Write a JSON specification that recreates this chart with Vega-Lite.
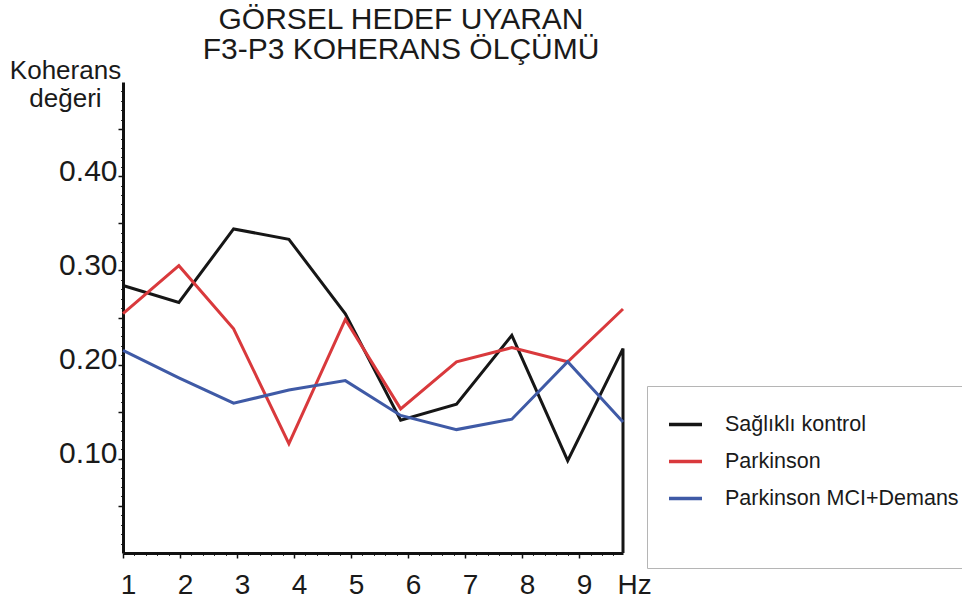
{
  "$schema": "https://vega.github.io/schema/vega-lite/v6.json",
  "width": 500,
  "height": 471,
  "autosize": {"type": "none"},
  "padding": {"left": 123, "top": 82, "right": 339, "bottom": 48},
  "background": "white",
  "config": {"view": {"stroke": null}, "font": "Liberation Sans"},
  "title": {
    "text": ["GÖRSEL HEDEF UYARAN", "F3-P3 KOHERANS ÖLÇÜMÜ"],
    "fontSize": 30,
    "fontWeight": "normal",
    "font": "Liberation Sans",
    "color": "#1a1a1a",
    "anchor": "middle",
    "frame": "group",
    "dx": 28,
    "offset": -38,
    "lineHeight": 30,
    "baseline": "bottom"
  },
  "data": {
    "values": [
      {"grup": "Sağlıklı kontrol", "i": 1, "hz": 1.0, "koherans": 0.284},
      {"grup": "Sağlıklı kontrol", "i": 2, "hz": 1.98, "koherans": 0.266},
      {"grup": "Sağlıklı kontrol", "i": 3, "hz": 2.94, "koherans": 0.344},
      {"grup": "Sağlıklı kontrol", "i": 4, "hz": 3.91, "koherans": 0.333},
      {"grup": "Sağlıklı kontrol", "i": 5, "hz": 4.9, "koherans": 0.254},
      {"grup": "Sağlıklı kontrol", "i": 6, "hz": 5.87, "koherans": 0.141},
      {"grup": "Sağlıklı kontrol", "i": 7, "hz": 6.85, "koherans": 0.158},
      {"grup": "Sağlıklı kontrol", "i": 8, "hz": 7.82, "koherans": 0.231},
      {"grup": "Sağlıklı kontrol", "i": 9, "hz": 8.8, "koherans": 0.098},
      {"grup": "Sağlıklı kontrol", "i": 10, "hz": 9.77, "koherans": 0.217},
      {"grup": "Sağlıklı kontrol", "i": 11, "hz": 9.77, "koherans": 0.0},
      {"grup": "Parkinson", "i": 1, "hz": 1.0, "koherans": 0.254},
      {"grup": "Parkinson", "i": 2, "hz": 1.98, "koherans": 0.305},
      {"grup": "Parkinson", "i": 3, "hz": 2.94, "koherans": 0.238},
      {"grup": "Parkinson", "i": 4, "hz": 3.91, "koherans": 0.116},
      {"grup": "Parkinson", "i": 5, "hz": 4.9, "koherans": 0.248},
      {"grup": "Parkinson", "i": 6, "hz": 5.87, "koherans": 0.153},
      {"grup": "Parkinson", "i": 7, "hz": 6.85, "koherans": 0.203},
      {"grup": "Parkinson", "i": 8, "hz": 7.82, "koherans": 0.218},
      {"grup": "Parkinson", "i": 9, "hz": 8.8, "koherans": 0.203},
      {"grup": "Parkinson", "i": 10, "hz": 9.77, "koherans": 0.259},
      {"grup": "Parkinson MCI+Demans", "i": 1, "hz": 1.0, "koherans": 0.215},
      {"grup": "Parkinson MCI+Demans", "i": 2, "hz": 1.98, "koherans": 0.186},
      {"grup": "Parkinson MCI+Demans", "i": 3, "hz": 2.94, "koherans": 0.159},
      {"grup": "Parkinson MCI+Demans", "i": 4, "hz": 3.91, "koherans": 0.173},
      {"grup": "Parkinson MCI+Demans", "i": 5, "hz": 4.9, "koherans": 0.183},
      {"grup": "Parkinson MCI+Demans", "i": 6, "hz": 5.87, "koherans": 0.146},
      {"grup": "Parkinson MCI+Demans", "i": 7, "hz": 6.85, "koherans": 0.131},
      {"grup": "Parkinson MCI+Demans", "i": 8, "hz": 7.82, "koherans": 0.142},
      {"grup": "Parkinson MCI+Demans", "i": 9, "hz": 8.8, "koherans": 0.203},
      {"grup": "Parkinson MCI+Demans", "i": 10, "hz": 9.77, "koherans": 0.139}
    ]
  },
  "resolve": {"axis": {"x": "independent", "y": "independent"}},
  "layer": [
    {
      "mark": {"type": "line", "strokeWidth": 3, "strokeOpacity": 0},
      "encoding": {
        "x": {
          "field": "hz", "type": "quantitative",
          "scale": {"domain": [1, 9.77], "nice": false, "zero": false},
          "axis": {
            "orient": "bottom",
            "values": [1.2,1.4,1.6,1.8,2.2,2.4,2.6,2.8,3.2,3.4,3.6,3.8,4.2,4.4,4.6,4.8,5.2,5.4,5.6,5.8,6.2,6.4,6.6,6.8,7.2,7.4,7.6,7.8,8.2,8.4,8.6,8.8,9.2,9.4,9.6],
            "labels": false, "domain": false, "grid": false, "title": null,
            "tickSize": 2.5, "tickColor": "#333", "tickWidth": 1
          }
        },
        "y": {
          "field": "koherans", "type": "quantitative",
          "scale": {"domain": [0, 0.5], "nice": false},
          "axis": {
            "orient": "left",
            "values": [0.01,0.02,0.03,0.04,0.06,0.07,0.08,0.09,0.11,0.12,0.13,0.14,0.16,0.17,0.18,0.19,0.21,0.22,0.23,0.24,0.26,0.27,0.28,0.29,0.31,0.32,0.33,0.34,0.36,0.37,0.38,0.39,0.41,0.42,0.43,0.44,0.46,0.47,0.48,0.49],
            "labels": false, "domain": false, "grid": false, "title": null,
            "tickSize": 2.5, "tickColor": "#333", "tickWidth": 1
          }
        },
        "detail": {"field": "grup"},
        "order": {"field": "i"}
      }
    },
    {
      "mark": {"type": "line", "strokeWidth": 3, "strokeJoin": "miter", "strokeCap": "butt"},
      "encoding": {
        "x": {
          "field": "hz", "type": "quantitative",
          "scale": {"domain": [1, 9.77], "nice": false, "zero": false},
          "axis": {
            "orient": "bottom",
            "values": [1, 2, 3, 4, 5, 6, 7, 8, 9],
            "format": "d",
            "grid": false,
            "domainWidth": 3, "domainColor": "#111",
            "tickColor": "#111", "tickWidth": 1.5, "tickSize": 5,
            "labelFontSize": 28, "labelFont": "Liberation Sans", "labelColor": "#1a1a1a",
            "labelPadding": 35, "labelBaseline": "alphabetic", "labelOffset": 5,
            "labelFlush": false, "labelOverlap": false,
            "title": "Hz", "titleFontSize": 28, "titleFontWeight": "normal", "titleFont": "Liberation Sans",
            "titleColor": "#1a1a1a", "titleX": 494, "titleY": 40, "titleAlign": "left", "titleBaseline": "alphabetic"
          }
        },
        "y": {
          "field": "koherans", "type": "quantitative",
          "scale": {"domain": [0, 0.5], "nice": false},
          "axis": {
            "orient": "left",
            "values": [0.05, 0.1, 0.15, 0.2, 0.25, 0.3, 0.35, 0.4, 0.45],
            "labelExpr": "round(datum.value * 100) % 10 == 0 ? format(datum.value, '.2f') : ''",
            "grid": false,
            "domainWidth": 3, "domainColor": "#111",
            "tickColor": "#111", "tickWidth": 1.5, "tickSize": 5,
            "labelFontSize": 30, "labelFont": "Liberation Sans", "labelColor": "#1a1a1a",
            "labelPadding": 1, "labelBaseline": "alphabetic", "labelOffset": 4,
            "labelOverlap": false,
            "title": ["Koherans", "değeri"], "titleFontSize": 26, "titleFontWeight": "normal",
            "titleFont": "Liberation Sans", "titleColor": "#1a1a1a",
            "titleAngle": 0, "titleAlign": "center", "titleBaseline": "alphabetic",
            "titleX": -58, "titleY": -4, "titleLineHeight": 28
          }
        },
        "color": {
          "field": "grup", "type": "nominal",
          "scale": {
            "domain": ["Sağlıklı kontrol", "Parkinson", "Parkinson MCI+Demans"],
            "range": ["#161616", "#d9393c", "#3f5aa6"]
          },
          "legend": {
            "orient": "none", "legendX": 524, "legendY": 304,
            "title": " ", "titleOrient": "bottom", "titleFontSize": 34, "titlePadding": 5,
            "padding": 20, "strokeColor": "#b5b5b5", "fillColor": "white",
            "symbolType": "stroke", "symbolSize": 1089, "symbolStrokeWidth": 3.5,
            "labelFontSize": 21.5, "labelFont": "Liberation Sans", "labelColor": "#1a1a1a",
            "labelOffset": 21, "rowPadding": 8, "labelLimit": 500,
            "labelExpr": "datum.label == 'Sağlıklı kontrol' ? '\u00a0\u00a0Sağlıklı kontrol' : (datum.label == 'Parkinson MCI+Demans' ? '\u00a0Parkinson MCI+Demans' : datum.label)",
            "encode": {
              "symbols": {
                "update": {
                  "stroke": {"signal": "datum.value == 'Parkinson MCI+Demans' ? '#24247a' : scale('color', datum.value)"}
                }
              }
            }
          }
        },
        "order": {"field": "i"}
      }
    }
  ]
}
